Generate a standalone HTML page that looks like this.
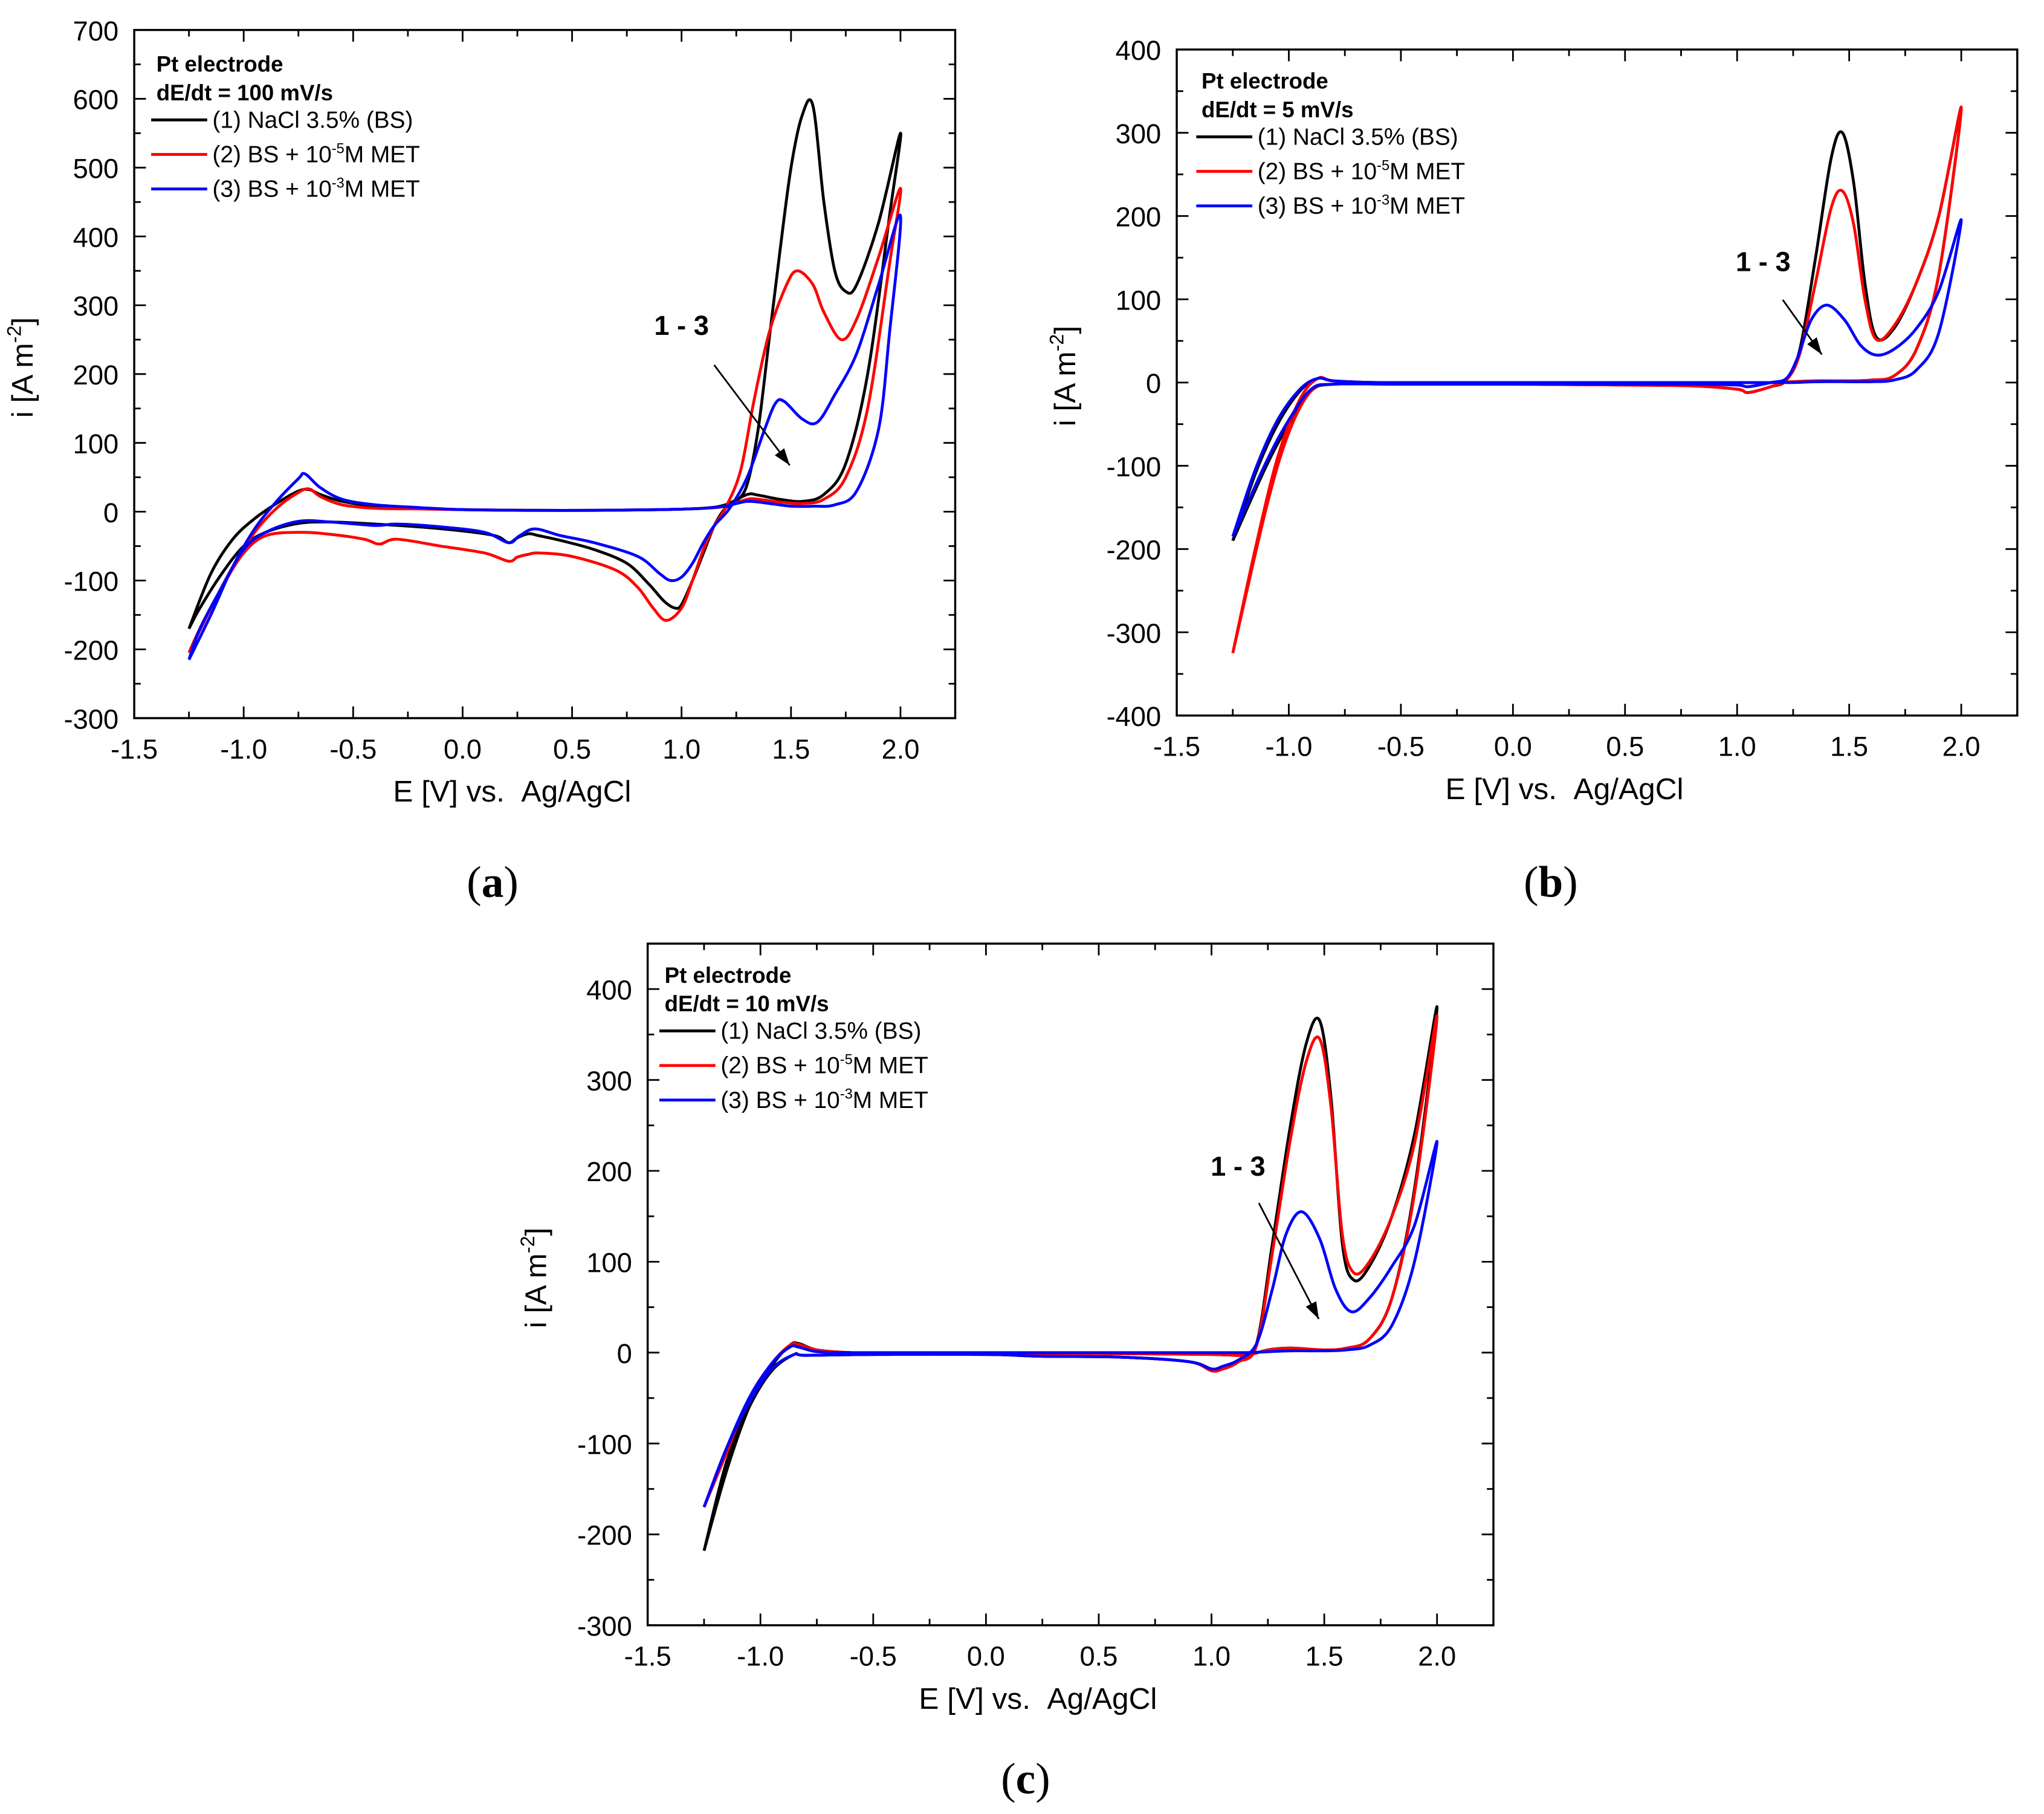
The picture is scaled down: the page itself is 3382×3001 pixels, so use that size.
<!DOCTYPE html>
<html><head><meta charset="utf-8"><style>
html,body{margin:0;padding:0;background:#fff}
svg{display:block}
</style></head><body>
<svg id="fig" xmlns="http://www.w3.org/2000/svg" width="3382" height="3001" viewBox="0 0 1568.5 1391.8" font-family="Liberation Sans, Arial, sans-serif">
<rect width="1568.5" height="1391.8" fill="#fff"/>
<text x="378" y="688" style="font-family:'Liberation Serif',serif" font-size="34" text-anchor="middle">(<tspan font-weight="bold">a</tspan>)</text>
<text x="1190" y="688" style="font-family:'Liberation Serif',serif" font-size="34" text-anchor="middle">(<tspan font-weight="bold">b</tspan>)</text>
<text x="787" y="1376" style="font-family:'Liberation Serif',serif" font-size="34" text-anchor="middle">(<tspan font-weight="bold">c</tspan>)</text>
</svg>
<script>
// ---- Data (E in V vs Ag/AgCl, i in A m^-2) ----
const fwdE_a = [-1.25,-1.15,-1.05,-0.95,-0.85,-0.75,-0.7,-0.65,-0.55,-0.4,-0.2,0,0.3,0.6,0.9,1.1,1.2,1.3,1.35,1.45,1.55,1.65,1.75,1.85,1.95,2.0];
const a1_fwdI = [-170,-90,-40,-10,12,30,32,25,15,8,5,3,2,2,3,5,10,25,24,18,15,25,70,200,430,550];
const a1_revE = [2.0,1.9,1.8,1.75,1.7,1.65,1.6,1.55,1.5,1.45,1.4,1.35,1.3,1.25,1.2,1.15,1.1,1.05,1.0,0.97,0.92,0.85,0.75,0.6,0.45,0.35,0.3,0.25,0.21,0.15,0.0,-0.2,-0.4,-0.6,-0.75,-0.9,-1.0,-1.1,-1.2,-1.25];
const a1_revI = [550,420,330,320,350,450,590,575,500,380,250,120,40,15,5,-20,-60,-100,-135,-140,-130,-105,-75,-55,-42,-35,-32,-38,-45,-35,-28,-22,-18,-15,-17,-30,-50,-90,-140,-170];
const a2_fwdI = [-205,-140,-80,-30,5,28,33,22,10,5,4,3,2,2,3,5,8,18,18,14,12,18,50,150,360,470];
const a2_revE = [2.0,1.9,1.8,1.73,1.65,1.6,1.53,1.48,1.4,1.33,1.27,1.2,1.15,1.1,1.05,1.0,0.93,0.87,0.8,0.7,0.5,0.35,0.3,0.25,0.21,0.1,-0.1,-0.3,-0.38,-0.45,-0.6,-0.75,-0.9,-1.0,-1.1,-1.2,-1.25];
const a2_revI = [470,370,280,250,290,330,350,330,260,160,60,5,-20,-55,-100,-140,-158,-140,-110,-85,-65,-60,-62,-66,-72,-60,-50,-40,-47,-40,-33,-30,-35,-60,-110,-170,-205];
const a3_fwdE = [-1.25,-1.15,-1.05,-0.95,-0.85,-0.75,-0.72,-0.65,-0.55,-0.4,-0.2,0,0.3,0.6,0.9,1.1,1.2,1.3,1.4,1.5,1.6,1.7,1.8,1.9,1.95,2.0];
const a3_fwdI = [-215,-150,-80,-25,15,48,55,35,18,10,6,3,2,2,3,5,8,15,12,8,8,10,30,120,260,430];
const a3_revE = [2.0,1.9,1.8,1.7,1.62,1.55,1.47,1.43,1.38,1.3,1.22,1.15,1.1,1.05,1.0,0.95,0.9,0.8,0.6,0.45,0.33,0.26,0.21,0.1,-0.1,-0.3,-0.4,-0.6,-0.75,-0.9,-1.0,-1.1,-1.2,-1.25];
const a3_revI = [430,330,230,170,130,135,160,158,120,50,5,-20,-45,-75,-95,-100,-90,-65,-45,-35,-25,-35,-45,-30,-22,-18,-20,-15,-14,-30,-55,-110,-170,-215];

const fwdE_b = [-1.25,-1.15,-1.05,-0.95,-0.87,-0.8,-0.6,-0.3,0,0.5,1.0,1.15,1.25,1.35,1.5,1.6,1.7,1.8,1.9,2.0];
const revE_b = [2.0,1.9,1.8,1.7,1.62,1.57,1.52,1.47,1.42,1.35,1.28,1.22,1.15,1.05,1.0,0.8,0.5,0,-0.5,-0.8,-0.9,-1.0,-1.1,-1.25];
const b1_fwdI = [-190,-110,-50,-10,5,2,0,0,0,0,0,0,1,2,2,3,8,40,130,330];
const b1_revI = [330,200,120,65,55,120,240,300,270,150,40,3,-5,-12,-8,-4,-3,-2,-2,-2,-10,-50,-100,-190];
const b2_fwdI = [-325,-200,-90,-20,5,2,0,0,0,0,0,0,1,2,2,3,8,40,130,330];
const b2_revI = [330,200,120,68,52,100,190,230,210,120,35,3,-5,-12,-8,-4,-3,-2,-2,-2,-10,-60,-150,-325];
const b3_fwdI = [-185,-105,-45,-8,5,2,0,0,0,0,0,0,0,1,1,1,3,15,60,195];
const b3_revE = [2.0,1.9,1.8,1.7,1.62,1.55,1.48,1.4,1.33,1.27,1.22,1.15,1.05,1.0,0.8,0.5,0,-0.5,-0.8,-0.9,-1.0,-1.1,-1.25];
const b3_revI = [195,110,65,40,33,45,75,93,75,30,5,0,-5,-3,-2,-2,-2,-2,-2,-8,-45,-95,-185];

const fwdE_c = [-1.25,-1.15,-1.05,-0.95,-0.87,-0.83,-0.75,-0.6,-0.3,0,0.5,1.0,1.15,1.25,1.35,1.5,1.6,1.7,1.8,1.9,2.0];
const revE_c = [2.0,1.9,1.8,1.7,1.63,1.58,1.53,1.48,1.42,1.35,1.27,1.2,1.12,1.05,1.0,0.9,0.6,0.25,0,-0.5,-0.8,-0.85,-0.95,-1.05,-1.15,-1.25];
const c1_fwdI = [-218,-130,-60,-15,8,10,3,0,-1,-1,-1,-2,-3,3,5,3,5,15,60,180,380];
const c1_revI = [380,240,150,95,80,120,280,365,340,250,120,10,-10,-18,-18,-10,-5,-4,-2,-2,-3,-2,-20,-60,-120,-218];
const c2_fwdI = [-170,-110,-50,-12,8,9,3,0,-1,-1,-1,-2,-3,3,5,3,5,15,60,175,370];
const c2_revI = [370,230,150,100,88,130,270,345,320,235,110,8,-10,-18,-20,-10,-5,-4,-2,-2,-3,-2,-18,-55,-105,-170];
const c3_fwdI = [-170,-105,-50,-12,6,6,1,0,0,0,0,0,0,1,2,2,3,8,30,100,232];
const c3_revE = [2.0,1.9,1.8,1.7,1.62,1.55,1.48,1.4,1.33,1.27,1.2,1.12,1.05,1.0,0.9,0.6,0.25,0,-0.5,-0.8,-0.85,-0.95,-1.05,-1.15,-1.25];
const c3_revI = [232,140,95,60,45,70,125,155,130,70,10,-8,-15,-18,-10,-5,-4,-2,-2,-3,-2,-18,-55,-105,-170];

const xTicks = [-1.5,-1.0,-0.5,0.0,0.5,1.0,1.5,2.0];
const xTickLabels = ["-1.5","-1.0","-0.5","0.0","0.5","1.0","1.5","2.0"];
const yTicks_a = [-300,-200,-100,0,100,200,300,400,500,600,700];
const yTicks_b = [-400,-300,-200,-100,0,100,200,300,400];
const yTicks_c = [-300,-200,-100,0,100,200,300,400];

const NS = "http://www.w3.org/2000/svg";
const svg = document.getElementById('fig');
function mk(tag, attrs, parent){ const e=document.createElementNS(NS,tag); for(const k in attrs) e.setAttribute(k,attrs[k]); (parent||svg).appendChild(e); return e; }
function smooth(pts){
  let d = "M"+pts[0][0].toFixed(2)+","+pts[0][1].toFixed(2);
  for(let i=0;i<pts.length-1;i++){
    const p0=pts[Math.max(0,i-1)],p1=pts[i],p2=pts[i+1],p3=pts[Math.min(pts.length-1,i+2)];
    const c1=[p1[0]+(p2[0]-p0[0])/6,p1[1]+(p2[1]-p0[1])/6];
    const c2=[p2[0]-(p3[0]-p1[0])/6,p2[1]-(p3[1]-p1[1])/6];
    d+=" C"+c1[0].toFixed(2)+","+c1[1].toFixed(2)+" "+c2[0].toFixed(2)+","+c2[1].toFixed(2)+" "+p2[0].toFixed(2)+","+p2[1].toFixed(2);
  }
  return d;
}
function panel(cfg){
  const g = mk('g',{});
  
  
  const X = v => cfg.x0 + (v - cfg.xmin)/(cfg.xmax-cfg.xmin)*(cfg.x1-cfg.x0);
  const Y = v => cfg.y1 - (v - cfg.ymin)/(cfg.ymax-cfg.ymin)*(cfg.y1-cfg.y0);
  const cols = ['#000','#f00','#00f'];
  cfg.series.forEach((s,k)=>{
    const pts = s.fE.map((e,i)=>[X(e),Y(s.fI[i])]).concat(s.rE.slice(1).map((e,i)=>[X(e),Y(s.rI[i+1])]));
    const p = mk('path',{d:smooth(pts),fill:'none',stroke:cols[k],'stroke-width':2.2,'stroke-linejoin':'round'},g);
    
    
  });
  const fr = mk('rect',{x:cfg.x0,y:cfg.y0,width:cfg.x1-cfg.x0,height:cfg.y1-cfg.y0,fill:'none',stroke:'#000','stroke-width':1.6},g);
  
  
  for(let v=cfg.xmin; v<=cfg.xmax+1e-6; v+=0.25){
    const major = Math.abs(v*2-Math.round(v*2))<1e-6;
    const L = major?9:5, x=X(v);
    mk('line',{x1:x,x2:x,y1:cfg.y1,y2:cfg.y1-L,stroke:'#000','stroke-width':1.3},g);
    mk('line',{x1:x,x2:x,y1:cfg.y0,y2:cfg.y0+L,stroke:'#000','stroke-width':1.3},g);
  }
  xTicks.forEach((v,i)=>{
    const t = mk('text',{x:X(v),y:cfg.y1+31,'font-size':21,'text-anchor':'middle'},g);
    t.textContent = xTickLabels[i];
    
    
  });
  for(let v=cfg.ymin; v<=cfg.ymax+1e-6; v+=50){
    const major = (Math.round(v)%100)===0;
    const L = major?9:5, y=Y(v);
    mk('line',{x1:cfg.x0,x2:cfg.x0+L,y1:y,y2:y,stroke:'#000','stroke-width':1.3},g);
    mk('line',{x1:cfg.x1,x2:cfg.x1-L,y1:y,y2:y,stroke:'#000','stroke-width':1.3},g);
  }
  cfg.yTicks.forEach(v=>{
    const t = mk('text',{x:cfg.x0-12,y:Y(v)+8,'font-size':21,'text-anchor':'end'},g);
    t.textContent = String(v);
    
    
  });
  const xt = mk('text',{x:(cfg.x0+cfg.x1)/2-25,y:cfg.y1+64,'font-size':23,'text-anchor':'middle'},g);
  xt.textContent = 'E [V] vs.\u00a0\u00a0Ag/AgCl';
  
  
  const ycx = cfg.x0-78, ycy = (cfg.y0+cfg.y1)/2-5;
  const yt = mk('text',{x:ycx,y:ycy,'font-size':23,'text-anchor':'middle',transform:'rotate(-90 '+ycx+' '+ycy+')'},g);
  yt.innerHTML = 'i [A m<tspan dy="-9" font-size="15">-2</tspan><tspan dy="9">]</tspan>';
  
  
  const lx = cfg.lx, ly = cfg.ly;
  const h1 = mk('text',{x:lx+4,y:ly,'font-size':17,'font-weight':'bold'},g); h1.textContent='Pt electrode';
   
  const h2 = mk('text',{x:lx+4,y:ly+22,'font-size':17,'font-weight':'bold'},g); h2.textContent=cfg.rate;
   
  const labels = ['(1) NaCl 3.5% (BS)','(2) BS + 10<tspan dy="-7" font-size="11">-5</tspan><tspan dy="7">M MET</tspan>','(3) BS + 10<tspan dy="-7" font-size="11">-3</tspan><tspan dy="7">M MET</tspan>'];
  labels.forEach((lab,k)=>{
    const yy = ly+43+k*26.5;
    const ln = mk('line',{x1:lx,x2:lx+43,y1:yy-6,y2:yy-6,stroke:cols[k],'stroke-width':2.2},g);
     
    const t = mk('text',{x:lx+47,y:yy,'font-size':18},g); t.innerHTML = lab;
     
  });
  const an = mk('text',{x:cfg.ann[0],y:cfg.ann[1],'font-size':21,'font-weight':'bold','text-anchor':'middle'},g);
  an.textContent = '1 - 3';
   
  const [ax1,ay1,ax2,ay2] = cfg.arrow;
  mk('line',{x1:ax1,y1:ay1,x2:ax2,y2:ay2,stroke:'#000','stroke-width':1.3},g);
  const ang = Math.atan2(ay2-ay1,ax2-ax1), hl=13, hw=4.5;
  const bx=ax2-hl*Math.cos(ang), by=ay2-hl*Math.sin(ang);
  const ah = mk('polygon',{points:`${ax2},${ay2} ${bx-hw*Math.sin(ang)},${by+hw*Math.cos(ang)} ${bx+hw*Math.sin(ang)},${by-hw*Math.cos(ang)}`,fill:'#000'},g);
   
}
panel({id:'a',x0:103,x1:733,y0:23,y1:551,xmin:-1.5,xmax:2.25,ymin:-300,ymax:700,yTicks:yTicks_a,
  lx:116,ly:55,rate:'dE/dt = 100 mV/s',ann:[523,257],arrow:[548,280,606,357],
  series:[{fE:fwdE_a,fI:a1_fwdI,rE:a1_revE,rI:a1_revI},{fE:fwdE_a,fI:a2_fwdI,rE:a2_revE,rI:a2_revI},{fE:a3_fwdE,fI:a3_fwdI,rE:a3_revE,rI:a3_revI}]});
panel({id:'b',x0:903,x1:1548,y0:38,y1:549,xmin:-1.5,xmax:2.25,ymin:-400,ymax:400,yTicks:yTicks_b,
  lx:918,ly:68,rate:'dE/dt = 5 mV/s',ann:[1353,208],arrow:[1368,230,1398,272],
  series:[{fE:fwdE_b,fI:b1_fwdI,rE:revE_b,rI:b1_revI},{fE:fwdE_b,fI:b2_fwdI,rE:revE_b,rI:b2_revI},{fE:fwdE_b,fI:b3_fwdI,rE:b3_revE,rI:b3_revI}]});
panel({id:'c',x0:497,x1:1146,y0:724,y1:1247,xmin:-1.5,xmax:2.25,ymin:-300,ymax:450,yTicks:yTicks_c,
  lx:506,ly:754,rate:'dE/dt = 10 mV/s',ann:[950,902],arrow:[966,923,1012,1012],
  series:[{fE:fwdE_c,fI:c1_fwdI,rE:revE_c,rI:c1_revI},{fE:fwdE_c,fI:c2_fwdI,rE:revE_c,rI:c2_revI},{fE:fwdE_c,fI:c3_fwdI,rE:c3_revE,rI:c3_revI}]});
</script>
</body></html>
